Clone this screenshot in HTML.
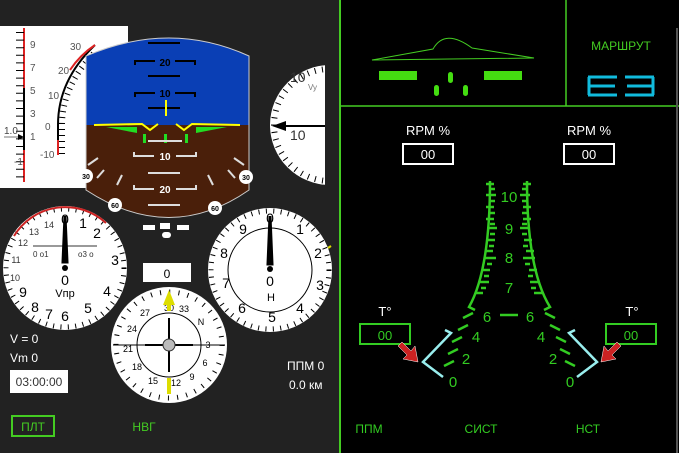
<!DOCTYPE html>
<html><head><meta charset="utf-8"><style>
body{margin:0;width:679px;height:453px;overflow:hidden;background:#222;font-family:"Liberation Sans",sans-serif}
svg{display:block}
text{font-family:"Liberation Sans","Noto Sans CJK SC",sans-serif}
</style></head><body>
<svg width="679" height="453" viewBox="0 0 679 453">
<rect width="679" height="453" fill="#222"/>
<!-- left white panel -->
<rect x="0" y="26" width="128" height="162" fill="#fff"/>
<line x1="24" y1="28" x2="24" y2="182" stroke="#d22" stroke-width="2"/>
<line x1="24" y1="88" x2="24" y2="150" stroke="#000" stroke-width="2"/>
<line x1="20" y1="32" x2="20" y2="180" stroke="#000" stroke-width="8" stroke-dasharray="1 6.6"/>
<g font-size="10" fill="#555">
<text x="30" y="48">9</text><text x="30" y="71">7</text><text x="30" y="94">5</text><text x="30" y="117">3</text><text x="30" y="140">1</text><text x="14" y="165">-1</text>
<text x="4" y="134" fill="#444">1.0</text>
<text x="70" y="50">30</text><text x="58" y="74">20</text><text x="48" y="99">10</text><text x="45" y="130">0</text><text x="40" y="158">-10</text>
</g>
<path d="M58,154 L58,125 Q58,80 95,45" fill="none" stroke="#000" stroke-width="2"/>
<path d="M62,154 L62,125 Q62,85 97,50" fill="none" stroke="#000" stroke-width="6" stroke-dasharray="1 5"/>
<path d="M70,70 Q80,55 95,45" fill="none" stroke="#d22" stroke-width="2"/>
<line x1="58" y1="140" x2="58" y2="155" stroke="#d22" stroke-width="2"/>
<path d="M4,137 L22,137" stroke="#777" stroke-width="1"/><path d="M18,134 L24,137 L18,140Z" fill="#000"/>
<!-- ADI -->
<defs><clipPath id="adi"><path d="M86,56 Q170,20 249,56 L249,190 Q170,245 86,190Z"/></clipPath></defs>
<g clip-path="url(#adi)">
<rect x="80" y="20" width="175" height="105" fill="#0a3fb5"/>
<rect x="80" y="125" width="175" height="110" fill="#4a1f0a"/>
</g>
<g stroke="#000" stroke-width="2" fill="none">
<line x1="148" y1="43" x2="180" y2="43"/>
<path d="M135,44 v-4 h20 M175,40 h20 v4" transform="translate(0,21)"/>
<line x1="148" y1="76" x2="180" y2="76"/>
<path d="M135,76 v-4 h20 M175,72 h20 v4" transform="translate(0,21)"/>
<line x1="148" y1="108" x2="180" y2="108"/>
</g>
<text x="165" y="66" font-size="10" font-weight="bold" text-anchor="middle">20</text>
<text x="165" y="97" font-size="10" font-weight="bold" text-anchor="middle">10</text>
<line x1="166" y1="100" x2="166" y2="116" stroke="#ff0" stroke-width="2"/>
<path d="M94,125 L142,124 L150,130 L158,124 M176,124 L184,130 L192,124 L240,125" stroke="#ff0" stroke-width="2" fill="none"/>
<path d="M106,127 L137,127 L137,133Z" fill="#2d2"/><path d="M196,127 L227,127 L196,133Z" fill="#2d2"/>
<rect x="143" y="134" width="3" height="9" fill="#2d2"/><rect x="164" y="134" width="3" height="9" fill="#2d2"/><rect x="185" y="134" width="3" height="9" fill="#2d2"/>
<g stroke="#ddd" stroke-width="2" fill="none">
<line x1="148" y1="141" x2="182" y2="141"/>
<path d="M134,152 v4 h20 M176,156 h20 v-4"/>
<line x1="148" y1="173" x2="180" y2="173"/>
<path d="M134,185 v4 h20 M176,189 h20 v-4"/>
<line x1="148" y1="205" x2="180" y2="205"/>
<line x1="88" y1="165" x2="98" y2="158"/><line x1="97" y1="178" x2="104" y2="170"/><line x1="117" y1="185" x2="122" y2="175"/>
<line x1="244" y1="165" x2="234" y2="158"/><line x1="235" y1="178" x2="228" y2="170"/><line x1="213" y1="185" x2="208" y2="175"/>
</g>
<text x="165" y="160" font-size="10" font-weight="bold" fill="#fff" text-anchor="middle">10</text>
<text x="165" y="193" font-size="10" font-weight="bold" fill="#fff" text-anchor="middle">20</text>
<path d="M86,56 Q170,20 249,56 L249,190 Q170,245 86,190Z" fill="none" stroke="#ccc" stroke-width="1"/>
<g font-size="7" font-weight="bold" text-anchor="middle">
<circle cx="86" cy="176" r="7" fill="#fff"/><text x="86" y="179">30</text>
<circle cx="246" cy="177" r="7" fill="#fff"/><text x="246" y="180">30</text>
<circle cx="115" cy="205" r="7" fill="#fff"/><text x="115" y="208">60</text>
<circle cx="215" cy="208" r="7" fill="#fff"/><text x="215" y="211">60</text>
</g>
<rect x="143" y="225" width="12" height="5" fill="#fff"/><rect x="160" y="223" width="10" height="6" fill="#fff"/><rect x="177" y="225" width="12" height="5" fill="#fff"/><rect x="162" y="232" width="9" height="6" rx="3" fill="#fff"/>
<!-- Vy -->
<defs><clipPath id="vy"><rect x="260" y="60" width="65" height="130"/></clipPath></defs>
<g clip-path="url(#vy)">
<circle cx="330" cy="125" r="60" fill="#fff"/>
<circle cx="330" cy="125" r="56" fill="none" stroke="#000" stroke-width="6" stroke-dasharray="1 6.3"/>
</g>
<text x="290" y="82" font-size="14" fill="#333">10</text><text x="308" y="90" font-size="8" fill="#777">Vy</text>
<text x="290" y="140" font-size="14" fill="#333">10</text>
<line x1="283" y1="126" x2="325" y2="126" stroke="#000" stroke-width="2"/><path d="M272,126 L286,121 L286,131Z" fill="#000"/>
<!-- speed gauge -->
<circle cx="65" cy="268" r="62" fill="#fff"/>
<circle cx="65" cy="268" r="59" fill="none" stroke="#000" stroke-width="5" stroke-dasharray="1 6.4"/>
<path d="M14,236 A60,60 0 0 1 106,223" fill="none" stroke="#c22" stroke-width="2"/>
<g font-size="14" fill="#000" text-anchor="middle">
<text x="65" y="224">0</text><text x="83" y="228">1</text><text x="97" y="238">2</text><text x="115" y="265">3</text><text x="107" y="296">4</text><text x="88" y="313">5</text><text x="65" y="321">6</text><text x="49" y="319">7</text><text x="35" y="312">8</text><text x="23" y="297">9</text>
</g>
<g font-size="9" fill="#333" text-anchor="middle"><text x="49" y="228">14</text><text x="34" y="235">13</text><text x="23" y="246">12</text><text x="16" y="263">11</text><text x="15" y="281">10</text></g>
<line x1="33" y1="246" x2="97" y2="246" stroke="#333" stroke-width="1"/>
<g font-size="8" fill="#333"><text x="33" y="257">0 о1</text><text x="78" y="257">о3 о</text></g>
<path d="M65,216 L67,262 L63,262Z" fill="#000" stroke="#000" stroke-width="3"/><circle cx="65" cy="268" r="3" fill="#000"/>
<text x="65" y="285" font-size="14" text-anchor="middle">0</text><text x="65" y="297" font-size="11" text-anchor="middle">Vпр</text>
<!-- altimeter -->
<circle cx="270" cy="270" r="62" fill="#fff"/>
<circle cx="270" cy="270" r="59" fill="none" stroke="#000" stroke-width="5" stroke-dasharray="1 6.4"/>
<circle cx="270" cy="270" r="42" fill="none" stroke="#000" stroke-width="1"/>
<g font-size="14" fill="#000" text-anchor="middle">
<text x="270" y="223">0</text><text x="300" y="234">1</text><text x="318" y="258">2</text><text x="320" y="290">3</text><text x="300" y="313">4</text><text x="272" y="322">5</text><text x="242" y="313">6</text><text x="226" y="288">7</text><text x="224" y="258">8</text><text x="243" y="234">9</text>
</g>
<path d="M270,216 L272,264 L268,264Z" fill="#000" stroke="#000" stroke-width="3"/><circle cx="270" cy="269" r="3" fill="#000"/>
<text x="270" y="286" font-size="14" text-anchor="middle">0</text><text x="271" y="301" font-size="11" text-anchor="middle">H</text>
<line x1="328" y1="248" x2="331" y2="246" stroke="#dd0" stroke-width="2"/>
<!-- box 0 -->
<rect x="143" y="263" width="48" height="19" fill="#fff"/><text x="167" y="278" font-size="12" text-anchor="middle">0</text>
<!-- compass -->
<circle cx="169" cy="345" r="58" fill="#fff"/>
<circle cx="169" cy="345" r="53" fill="none" stroke="#000" stroke-width="5" stroke-dasharray="1 8.25"/>
<circle cx="169" cy="345" r="32" fill="none" stroke="#000" stroke-width="1"/>
<g font-size="9" fill="#000" text-anchor="middle">
<text x="169" y="311">30</text><text x="184" y="312">33</text><text x="201" y="325">N</text><text x="208" y="348">3</text><text x="205" y="366">6</text><text x="192" y="380">9</text><text x="176" y="386">12</text><text x="153" y="384">15</text><text x="137" y="370">18</text><text x="128" y="352">21</text><text x="132" y="332">24</text><text x="145" y="316">27</text>
</g>
<line x1="113" y1="345" x2="225" y2="345" stroke="#000" stroke-width="1"/>
<line x1="145" y1="345" x2="193" y2="345" stroke="#000" stroke-width="2"/>
<line x1="169" y1="318" x2="169" y2="372" stroke="#000" stroke-width="2"/>
<circle cx="169" cy="345" r="6" fill="#bbb" stroke="#333"/>
<path d="M169,290 L175,305 L163,305Z" fill="#dd0"/><rect x="167" y="303" width="4" height="8" fill="#dd0"/>
<rect x="167" y="378" width="4" height="16" fill="#dd0"/>
<!-- left texts -->
<g fill="#fff" font-size="12"><text x="10" y="343">V = 0</text><text x="10" y="362">Vm 0</text><text x="287" y="370">ППМ 0</text><text x="289" y="389">0.0 км</text></g>
<rect x="10" y="370" width="58" height="23" fill="#fff"/><text x="39" y="386" font-size="12" fill="#333" text-anchor="middle">03:00:00</text>
<rect x="12" y="416" width="42" height="20" fill="none" stroke="#4c2" stroke-width="2"/>
<text x="33" y="431" font-size="12" fill="#4c2" text-anchor="middle">ПЛТ</text>
<text x="144" y="431" font-size="12" fill="#4c2" text-anchor="middle">НВГ</text>
<!-- right panel -->
<rect x="340" y="0" width="339" height="453" fill="#000"/>
<line x1="340" y1="0" x2="340" y2="453" stroke="#4c2" stroke-width="2"/>
<line x1="340" y1="106" x2="679" y2="106" stroke="#4c2" stroke-width="1.5"/>
<line x1="566" y1="0" x2="566" y2="106" stroke="#4c2" stroke-width="1.5"/>
<line x1="677" y1="28" x2="677" y2="453" stroke="#555" stroke-width="2"/>
<path d="M372,60 L433,49 Q445,28 472,48 L534,58 Z" fill="none" stroke="#4c2" stroke-width="1"/>
<rect x="379" y="71" width="38" height="9" fill="#4d1"/><rect x="484" y="71" width="38" height="9" fill="#4d1"/>
<rect x="448" y="72" width="5" height="11" rx="2.5" fill="#4d1"/><rect x="434" y="85" width="5" height="11" rx="2.5" fill="#4d1"/><rect x="463" y="85" width="5" height="11" rx="2.5" fill="#4d1"/>
<text x="621" y="50" font-size="12" fill="#4c2" text-anchor="middle">МАРШРУТ</text>
<path d="M588,77 h29 M588,86 h27 M588,95 h29 M589,77 v18 M625,77 h29 M627,86 h27 M625,95 h29 M653,77 v18" stroke="#1bd" stroke-width="3" fill="none"/>
<g fill="#fff" font-size="13" text-anchor="middle"><text x="428" y="135">RPM %</text><text x="589" y="135">RPM %</text></g>
<rect x="403" y="144" width="50" height="20" fill="none" stroke="#fff" stroke-width="2"/><text x="428" y="159" font-size="13" fill="#fff" text-anchor="middle">00</text>
<rect x="564" y="144" width="50" height="20" fill="none" stroke="#fff" stroke-width="2"/><text x="589" y="159" font-size="13" fill="#fff" text-anchor="middle">00</text>
<!-- engine gauge -->
<g stroke="#3c2" fill="none" stroke-width="2.5">
<path d="M490,181 Q490,270 469,307 L475,310"/>
<path d="M527,181 Q527,270 550,307 L544,310"/>
<line x1="500" y1="315" x2="518" y2="315"/>
<path d="M486,184 h8 M486,195 h10 M486,207 h8 M486,219 h8 M487,228 h10 M487,240 h8 M485,251 h8 M484,258 h12 M482,270 h8 M479,282 h10 M475,293 h8"/>
<path d="M523,184 h8 M520,195 h10 M523,207 h8 M523,219 h8 M520,228 h10 M524,240 h8 M526,251 h8 M523,258 h12 M529,270 h8 M530,282 h10 M534,293 h8"/>
<path d="M490,189 h5 M490,201 h5 M490,213 h5 M490,224 h5 M490,234 h5 M489,246 h5 M487,264 h5 M484,276 h5 M481,288 h5"/>
<path d="M522,189 h5 M522,201 h5 M522,213 h5 M522,224 h5 M522,234 h5 M523,246 h5 M525,264 h5 M528,276 h5 M531,288 h5"/>
<path d="M463,318 l10,-5 M458,330 l10,-5 M452,342 l10,-5 M448,354 l10,-5 M444,366 l10,-5"/>
<path d="M545,313 l10,5 M550,325 l10,5 M556,337 l10,5 M560,349 l10,5 M565,361 l10,5"/>
</g>
<g fill="#3c2" font-size="15" text-anchor="middle">
<text x="509" y="202">10</text><text x="509" y="234">9</text><text x="509" y="263">8</text><text x="509" y="293">7</text>
<text x="487" y="322">6</text><text x="530" y="322">6</text><text x="476" y="342">4</text><text x="541" y="342">4</text>
<text x="466" y="364">2</text><text x="553" y="364">2</text><text x="453" y="387">0</text><text x="570" y="387">0</text>
</g>
<path d="M445,330 l6,3 L423,362 L443,377" stroke="#9ee" stroke-width="2.5" fill="none"/>
<path d="M575,330 l-6,3 L597,362 L577,377" stroke="#9ee" stroke-width="2.5" fill="none"/>
<g fill="#fff" font-size="13" text-anchor="middle"><text x="385" y="316">T°</text><text x="632" y="316">T°</text></g>
<rect x="360" y="324" width="50" height="20" fill="none" stroke="#3c2" stroke-width="2"/><text x="385" y="340" font-size="13" fill="#3c2" text-anchor="middle">00</text>
<rect x="606" y="324" width="50" height="20" fill="none" stroke="#3c2" stroke-width="2"/><text x="631" y="340" font-size="13" fill="#3c2" text-anchor="middle">00</text>
<path d="M402,342 L411,351 L415,346 L418,362 L403,359 L407,355 L398,346Z" fill="#c22" stroke="#fff" stroke-width="0.5"/>
<path d="M617,342 L608,351 L604,346 L601,362 L616,359 L612,355 L621,346Z" fill="#c22" stroke="#fff" stroke-width="0.5"/>
<g fill="#3c2" font-size="12" text-anchor="middle"><text x="369" y="433">ППМ</text><text x="481" y="433">СИСТ</text><text x="588" y="433">НСТ</text></g>
</svg>
</body></html>
